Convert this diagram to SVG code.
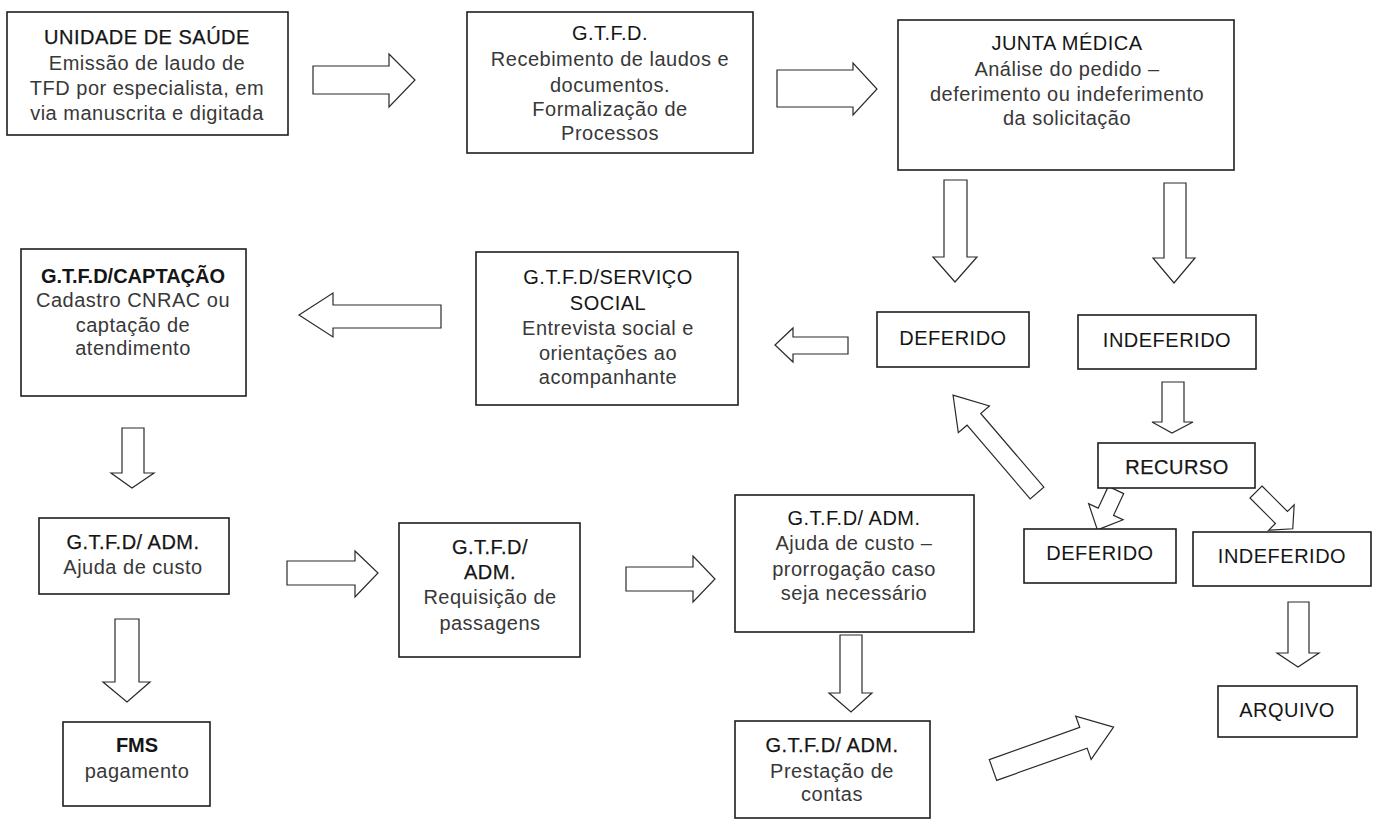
<svg xmlns="http://www.w3.org/2000/svg" width="1380" height="819" viewBox="0 0 1380 819">
<style>
.box{fill:#fff;stroke:#1e1e1e;stroke-width:1.6}
.arr{fill:#fff;stroke:#2a2a2a;stroke-width:1.2;stroke-linejoin:miter}
text{font-family:"Liberation Sans",Arial,sans-serif;font-size:20px;text-anchor:middle;fill:#383838;letter-spacing:0.5px}
.t{fill:#151515}
.m{fill:#151515;stroke:#151515;stroke-width:0.25}
.b{fill:#151515;font-weight:bold;letter-spacing:0}
</style>
<rect width="1380" height="819" fill="#fff"/>
<g id="connectors">
<polygon class="arr" points="313,66 389,66 389,54 415,80 389,107 389,94 313,94"/>
<polygon class="arr" points="777,70 853,70 853,63 877,89 853,115 853,107 777,107"/>
<polygon class="arr" points="944,180 967,180 967,257 977,257 955,282 933,257 944,257"/>
<polygon class="arr" points="1164,183 1186,183 1186,258 1195,258 1174,283 1153,258 1164,258"/>
<polygon class="arr" points="848,337 793,337 793,328 775,345 793,362 793,354 848,354"/>
<polygon class="arr" points="441,305 333,305 333,293 299,315 333,337 333,328 441,328"/>
<polygon class="arr" points="122,428 144,428 144,473 154,473 132,488 111,473 122,473"/>
<polygon class="arr" points="1162,382 1184,382 1184,422 1193,422 1172,433 1152,422 1162,422"/>
<polygon class="arr" points="115,619 139,619 139,682 150,682 127,702 103,682 115,682"/>
<polygon class="arr" points="287,561 355,561 355,551 378,573 355,597 355,585 287,585"/>
<polygon class="arr" points="626,567 693,567 693,556 715,579 693,602 693,591 626,591"/>
<polygon class="arr" points="840,635 862,635 862,693 872,693 851,712 829,693 840,693"/>
<polygon class="arr" points="1288,602 1309,602 1309,653 1319,653 1298,667 1277,653 1288,653"/>
<polygon class="arr" transform="translate(1037,493) rotate(-130.6)" points="0,-9 97,-9 97,-20.5 129,0 97,20.5 97,9 0,9"/>
<polygon class="arr" transform="translate(993,770) rotate(-19.6)" points="0,-11 96,-11 96,-23 128,0 96,23 96,11 0,11"/>
<polygon class="arr" transform="translate(1116,490) rotate(115)" points="0,-8.5 24,-8.5 24,-19 44,0 24,19 24,8.5 0,8.5"/>
<polygon class="arr" transform="translate(1256,492) rotate(45)" points="0,-8.5 36,-8.5 36,-18 52,0 36,18 36,8.5 0,8.5"/>
</g>
<g id="unidade">
<rect class="box" x="7" y="12" width="281" height="123"/>
<text class="m" x="147" y="44">UNIDADE DE SAÚDE</text>
<text x="147" y="70">Emissão de laudo de</text>
<text x="147" y="95">TFD por especialista, em</text>
<text x="147" y="120">via manuscrita e digitada</text>
</g>
<g id="gtfd">
<rect class="box" x="467" y="12" width="286" height="141"/>
<text class="t" x="610" y="40">G.T.F.D.</text>
<text x="610" y="66">Recebimento de laudos e</text>
<text x="610" y="92">documentos.</text>
<text x="610" y="116">Formalização de</text>
<text x="610" y="140">Processos</text>
</g>
<g id="junta">
<rect class="box" x="898" y="20" width="336" height="150"/>
<text class="t" x="1067" y="50">JUNTA MÉDICA</text>
<text x="1067" y="76">Análise do pedido –</text>
<text x="1067" y="101">deferimento ou indeferimento</text>
<text x="1067" y="125">da solicitação</text>
</g>
<g id="deferido1">
<rect class="box" x="877" y="312" width="152" height="55"/>
<text class="t" x="953" y="345">DEFERIDO</text>
</g>
<g id="indeferido1">
<rect class="box" x="1078" y="315" width="178" height="54"/>
<text class="t" x="1167" y="347">INDEFERIDO</text>
</g>
<g id="recurso">
<rect class="box" x="1098" y="443" width="157" height="45"/>
<text class="m" x="1177" y="474">RECURSO</text>
</g>
<g id="deferido2">
<rect class="box" x="1024" y="529" width="152" height="54"/>
<text class="t" x="1100" y="560">DEFERIDO</text>
</g>
<g id="indeferido2">
<rect class="box" x="1193" y="532" width="178" height="54"/>
<text class="t" x="1282" y="563">INDEFERIDO</text>
</g>
<g id="arquivo">
<rect class="box" x="1218" y="686" width="139" height="51"/>
<text class="t" x="1287" y="717">ARQUIVO</text>
</g>
<g id="servico-social">
<rect class="box" x="476" y="252" width="262" height="153"/>
<text class="t" x="608" y="284">G.T.F.D/SERVIÇO</text>
<text class="t" x="608" y="310">SOCIAL</text>
<text x="608" y="335">Entrevista social e</text>
<text x="608" y="360">orientações ao</text>
<text x="608" y="384">acompanhante</text>
</g>
<g id="captacao">
<rect class="box" x="21" y="249" width="225" height="147"/>
<text class="b" x="133" y="283">G.T.F.D/CAPTAÇÃO</text>
<text x="133" y="307">Cadastro CNRAC ou</text>
<text x="133" y="332">captação de</text>
<text x="133" y="355">atendimento</text>
</g>
<g id="ajuda">
<rect class="box" x="39" y="518" width="190" height="76"/>
<text class="m" x="133" y="549">G.T.F.D/ ADM.</text>
<text x="133" y="574">Ajuda de custo</text>
</g>
<g id="fms">
<rect class="box" x="63" y="722" width="147" height="84"/>
<text class="b" x="137" y="752">FMS</text>
<text x="137" y="778">pagamento</text>
</g>
<g id="requisicao">
<rect class="box" x="399" y="523" width="181" height="134"/>
<text class="m" x="490" y="554">G.T.F.D/</text>
<text class="m" x="490" y="579">ADM.</text>
<text x="490" y="604">Requisição de</text>
<text x="490" y="630">passagens</text>
</g>
<g id="prorrogacao">
<rect class="box" x="735" y="495" width="239" height="137"/>
<text class="t" x="854" y="525">G.T.F.D/ ADM.</text>
<text x="854" y="550">Ajuda de custo –</text>
<text x="854" y="576">prorrogação caso</text>
<text x="854" y="600">seja necessário</text>
</g>
<g id="prestacao">
<rect class="box" x="735" y="721" width="195" height="97"/>
<text class="m" x="832" y="752">G.T.F.D/ ADM.</text>
<text x="832" y="778">Prestação de</text>
<text x="832" y="801">contas</text>
</g>
</svg>
